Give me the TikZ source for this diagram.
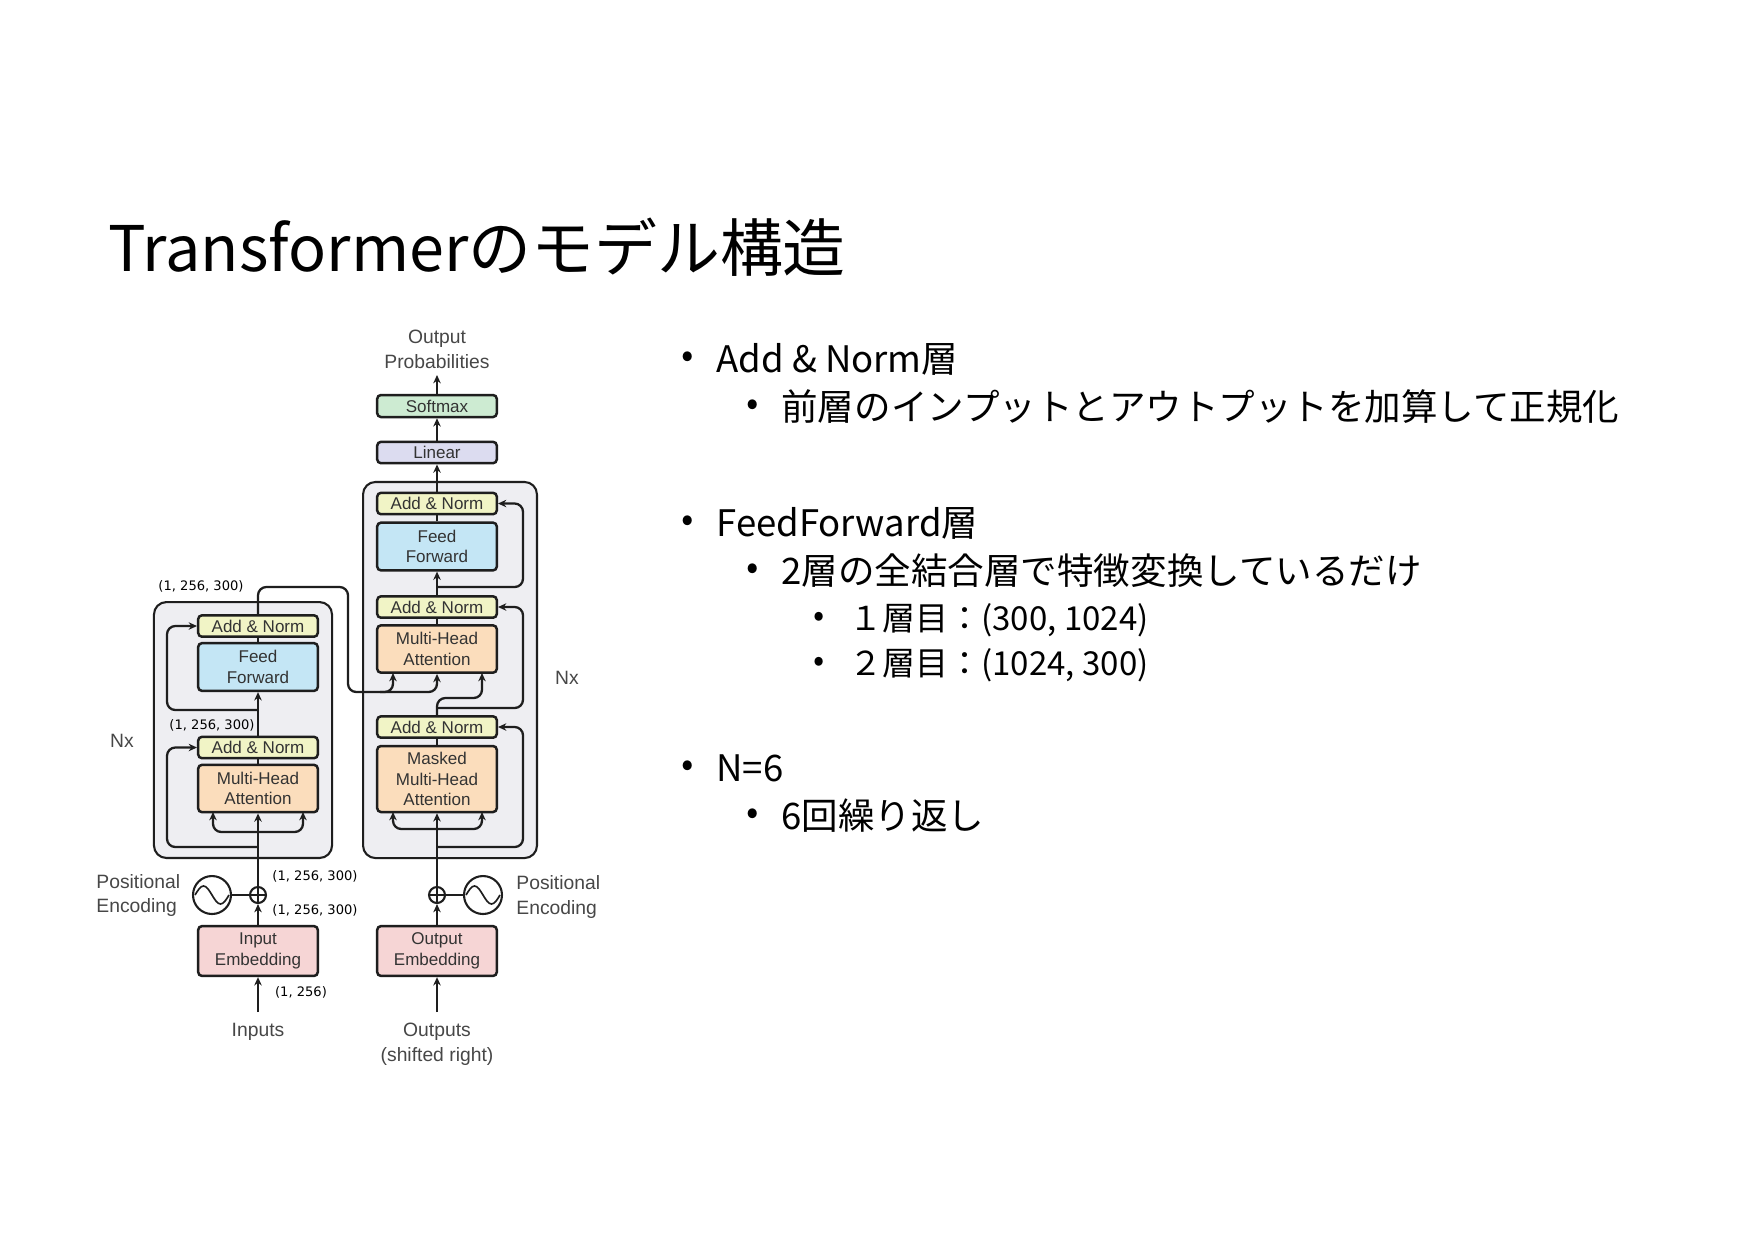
\documentclass[tikz,border=0pt]{standalone}
\usepackage{fontspec}
\setmainfont{Noto Sans CJK JP}
\newfontfamily\dgm{Liberation Sans}
\newfontfamily\dimf{DejaVu Sans}
\usetikzlibrary{arrows.meta,calc}
\definecolor{anc}{HTML}{F1F4C6}
\definecolor{ffc}{HTML}{C4E6F5}
\definecolor{mhac}{HTML}{FBDDBC}
\definecolor{linc}{HTML}{DCDCF0}
\definecolor{smc}{HTML}{CDEBD2}
\definecolor{embc}{HTML}{F6D5D5}
\definecolor{outc}{HTML}{EEEEF2}
\definecolor{lnc}{HTML}{1E1E1E}
\begin{document}
\begin{tikzpicture}[x=0.4818pt,y=-0.4818pt,
  sBox/.style={draw=lnc, line width=1.2pt, rounded corners=1.8pt, inner sep=0pt, align=center,
    font=\dgm\fontsize{8.2}{10}\selectfont, text=black!80, minimum width=57.6pt},
  sAN/.style={sBox, fill=anc, minimum height=10.3pt},
  sFF/.style={sBox, fill=ffc, minimum height=23pt},
  sMHA/.style={sBox, fill=mhac, minimum height=22.8pt},
  sMMHA/.style={sBox, fill=mhac, minimum height=31.8pt},
  sLin/.style={sBox, fill=linc, minimum height=10.3pt},
  sSm/.style={sBox, fill=smc, minimum height=10.6pt},
  sEmb/.style={sBox, fill=embc, minimum height=24pt},
  sOuter/.style={draw=lnc, fill=outc, line width=1pt, rounded corners=6pt, inner sep=0pt},
  sLn/.style={draw=lnc, line width=1.1pt, rounded corners=4pt},
  sArr/.style={sLn, -{Stealth[length=4pt,width=3.6pt]}},
  sLbl/.style={font=\dgm\fontsize{9.3}{12}\selectfont, text=black!72, align=center, inner sep=0pt},
  sDim/.style={font=\dimf\fontsize{6.3}{7.5}\selectfont, inner sep=0pt},
  sCirc/.style={draw=lnc, circle, line width=1pt, inner sep=0pt},
  sTitle/.style={font=\fontsize{30.3}{36}\selectfont, anchor=base west, inner sep=0pt},
  sL1/.style={font=\fontsize{17.6}{21}\selectfont, anchor=base west, inner sep=0pt},
  sL3/.style={font=\fontsize{15.9}{19}\selectfont, anchor=base west, inner sep=0pt},
  sBul/.style={font=\fontsize{17.6}{21}\selectfont, inner sep=0pt},
  sBulS/.style={font=\fontsize{15.9}{19}\selectfont, inner sep=0pt}
]
\useasboundingbox (0,0) rectangle (1754,1240);
\fill[white] (0,0) rectangle (1754,1240);

% ---------- title and bullet text ----------
\node[sTitle] (title) at (108,271) {Transformerのモデル構造};

\node[sBul] (b1) at (688,360) {•};
\node[sL1] (t1) at (716,372) {Add \& Norm層};
\node[sBul] (b11) at (753,408) {•};
\node[sL1] (t11) at (781,420) {前層のインプットとアウトプットを加算して正規化};

\node[sBul] (b2) at (688,524) {•};
\node[sL1] (t2) at (716,536) {FeedForward層};
\node[sBul] (b21) at (753,572) {•};
\node[sL1] (t21) at (781,584) {2層の全結合層で特徴変換しているだけ};
\node[sBulS] (b211) at (819,619) {•};
\node[sL3] (t211) at (849,630) {１層目：(300, 1024)};
\node[sBulS] (b212) at (819,664) {•};
\node[sL3] (t212) at (849,675) {２層目：(1024, 300)};

\node[sBul] (b3) at (688,769) {•};
\node[sL1] (t3) at (716,781) {N=6};
\node[sBul] (b31) at (753,817) {•};
\node[sL1] (t31) at (781,829) {6回繰り返し};

% ---------- outer boxes ----------
\node[sOuter, minimum width=85.8pt, minimum height=123.3pt] (encB) at (243,730) {};
\node[sOuter, minimum width=83.8pt, minimum height=181.2pt] (decB) at (450,670) {};

% ---------- encoder ----------
\node[sAN]  (eAN1) at (258,626)   {Add \& Norm};
\node[sFF]  (eFF)  at (258,667)   {Feed\\Forward};
\node[sAN]  (eAN2) at (258,747.5) {Add \& Norm};
\node[sMHA] (eMHA) at (258,788.5) {Multi-Head\\Attention};
\node[sEmb] (eEmb) at (258,951)   {Input\\Embedding};
\node[sCirc, minimum size=7.7pt] (ePl) at (258,895) {};
\node[sCirc, minimum size=18.3pt] (eSin) at (212,895) {};

% ---------- decoder ----------
\node[sSm]   (soft)  at (437,406)   {Softmax};
\node[sLin]  (lin)   at (437,452.5) {Linear};
\node[sAN]   (dAN1)  at (437,503.5) {Add \& Norm};
\node[sFF]   (dFF)   at (437,546.5) {Feed\\Forward};
\node[sAN]   (dAN2)  at (437,607)   {Add \& Norm};
\node[sMHA]  (dMHA)  at (437,649)   {Multi-Head\\Attention};
\node[sAN]   (dAN3)  at (437,727)   {Add \& Norm};
\node[sMMHA] (dMMHA) at (437,779)   {Masked\\Multi-Head\\Attention};
\node[sEmb]  (dEmb)  at (437,951)   {Output\\Embedding};
\node[sCirc, minimum size=7.7pt] (dPl) at (437,895) {};
\node[sCirc, minimum size=18.3pt] (dSin) at (483,895) {};

% ---------- labels ----------
\node[sLbl] (outprob) at (437,349.5) {Output\\Probabilities};
\node[sLbl] (inputs) at (258,1032) {Inputs};
\node[sLbl] (outputs) at (437,1044.5) {Outputs\\(shifted right)};
\node[sLbl, align=left, anchor=west] (peL) at (96,895.5) {Positional\\Encoding};
\node[sLbl, align=left, anchor=west] (peR) at (516,897) {Positional\\Encoding};
\node[sLbl] (nxL) at (122,741) {Nx};
\node[sLbl] (nxR) at (567,678) {Nx};

\node[sDim] (d1) at (201,586) {(1, 256, 300)};
\node[sDim] (d2) at (212,725) {(1, 256, 300)};
\node[sDim] (d3) at (315,876) {(1, 256, 300)};
\node[sDim] (d4) at (315,910) {(1, 256, 300)};
\node[sDim] (d5) at (301,992) {(1, 256)};

% ---------- coordinates ----------
\coordinate (inTip) at (258,1012);
\coordinate (outTip) at (437,1012);
\coordinate (probTip) at (437,375);
\coordinate (eR1) at (258,710);
\coordinate (eR2) at (258,847);
\coordinate (eS) at (258,832);
\coordinate (eSL) at (213,812);
\coordinate (eSR) at (303,812);
\coordinate (kIn) at (393,673);
\coordinate (qIn) at (482,673);
\coordinate (eBr) at (380,692);
\coordinate (dR1) at (437,587);
\coordinate (dR2) at (437,708);
\coordinate (dR3) at (437,847);
\coordinate (dS) at (437,829);
\coordinate (dSL) at (393,812);
\coordinate (dSR) at (482,812);

% ---------- symbols ----------
\draw[lnc, line width=0.9pt] (ePl.north) -- (ePl.south) (ePl.west) -- (ePl.east);
\draw[lnc, line width=0.9pt] (dPl.north) -- (dPl.south) (dPl.west) -- (dPl.east);
\draw[lnc, line width=0.8pt] ($(eSin.center)+(-17,0)$) sin ++(8.5,-9) cos ++(8.5,9) sin ++(8.5,9) cos ++(8.5,-9);
\draw[lnc, line width=0.8pt] ($(dSin.center)+(-17,0)$) sin ++(8.5,-9) cos ++(8.5,9) sin ++(8.5,9) cos ++(8.5,-9);
\draw[lnc, line width=1.4pt] (eSin.east) -- (ePl.west);
\draw[lnc, line width=1.4pt] (dPl.east) -- (dSin.west);

% ---------- encoder connectors ----------
\draw[sArr] (inTip) -- (eEmb.south);
\draw[sArr] (eEmb.north) -- (ePl.south);
\draw[sArr] (ePl.north) -- (eMHA.south);
\draw[sArr] (eS) -| (eSL);
\draw[sArr] (eS) -| (eSR);
\draw[sArr] (eR2) -- (167,847) |- (eAN2.west);
\draw[sLn] (eMHA.north) -- (eAN2.south);
\draw[sArr] (eAN2.north) -- (eFF.south);
\draw[sArr] (eR1) -- (167,710) |- (eAN1.west);
\draw[sLn] (eFF.north) -- (eAN1.south);
\draw[sArr] (eAN1.north) |- (348,587) -- (348,692) -| (kIn);
\draw[sArr] (eBr) -| (dMHA.south);

% ---------- decoder connectors ----------
\draw[sArr] (outTip) -- (dEmb.south);
\draw[sArr] (dEmb.north) -- (dPl.south);
\draw[sArr] (dPl.north) -- (dMMHA.south);
\draw[sArr] (dS) -| (dSL);
\draw[sArr] (dS) -| (dSR);
\draw[sArr] (dR3) -- (523,847) |- (dAN3.east);
\draw[sLn] (dMMHA.north) -- (dAN3.south);
\draw[sArr] (dAN3.north) |- (482,698) -- (qIn);
\draw[sArr] (dR2) -- (523,708) |- (dAN2.east);
\draw[sLn] (dMHA.north) -- (dAN2.south);
\draw[sArr] (dAN2.north) -- (dFF.south);
\draw[sArr] (dR1) -- (523,587) |- (dAN1.east);
\draw[sLn] (dFF.north) -- (dAN1.south);
\draw[sArr] (dAN1.north) -- (lin.south);
\draw[sArr] (lin.north) -- (soft.south);
\draw[sArr] (soft.north) -- (probTip);
\end{tikzpicture}
\end{document}
